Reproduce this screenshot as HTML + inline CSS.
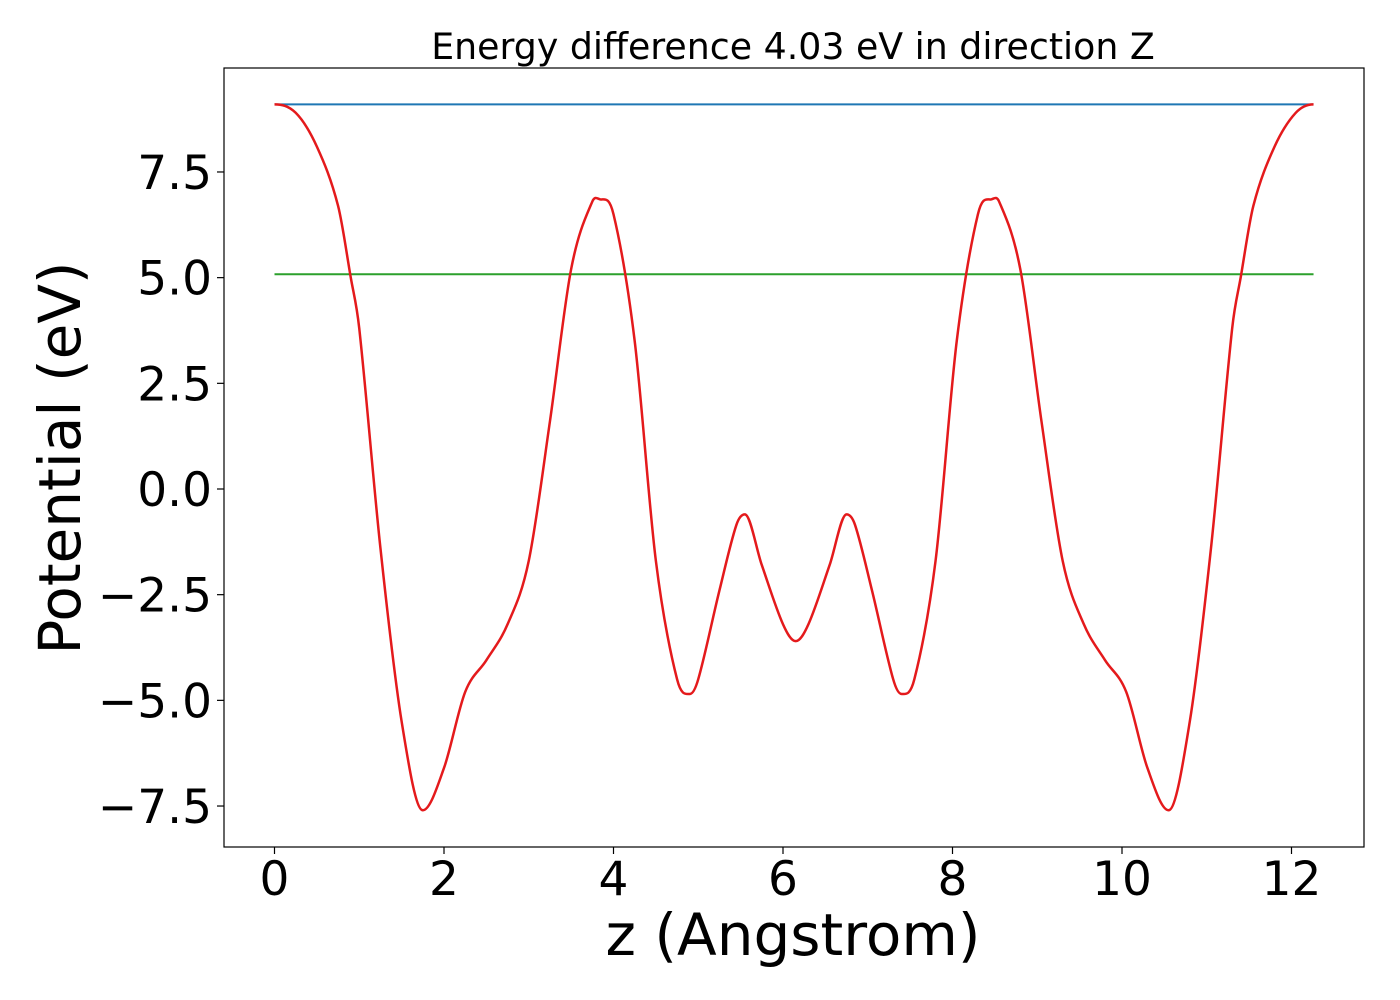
<!DOCTYPE html>
<html><head><meta charset="utf-8"><style>
html,body{margin:0;padding:0;background:#fff;}
svg{display:block;font-family:"DejaVu Sans","Liberation Sans",sans-serif;}
</style></head><body>
<svg id="chart" width="1400" height="1000">
<rect x="0" y="0" width="1400" height="1000" fill="#fff"/>
<text x="793" y="59" font-size="36.3" text-anchor="middle">Energy difference 4.03 eV in direction Z</text>
<g id="plot"></g>
<rect x="224" y="68" width="1140" height="779" fill="none" stroke="#000" stroke-width="1.2"/>
<text x="793" y="955" font-size="58" text-anchor="middle">z (Angstrom)</text>
<text transform="translate(80,458) rotate(-90)" font-size="58" text-anchor="middle">Potential (eV)</text>
</svg>
<script>
const zs = [0,0.25,0.5,0.75,0.9,1.0,1.25,1.5,1.75,2.0,2.25,2.5,2.75,3.0,3.25,3.5,3.75,3.85,4.0,4.25,4.5,4.75,4.9,5.0,5.25,5.45,5.55,5.75,6.0,6.15,6.3,6.55,6.75,6.85,7.05,7.3,7.4,7.55,7.8,8.05,8.3,8.45,8.55,8.8,9.05,9.3,9.55,9.8,10.05,10.3,10.55,10.8,11.05,11.3,11.4,11.55,11.8,12.05,12.26];
const potential = [9.1,8.9,8.1,6.7,5.0,3.8,-1.4,-5.5,-7.6,-6.6,-4.8,-4.05,-3.2,-1.7,1.6,5.2,6.8,6.85,6.5,3.5,-1.7,-4.5,-4.85,-4.5,-2.4,-0.85,-0.6,-1.8,-3.2,-3.6,-3.2,-1.8,-0.6,-0.85,-2.4,-4.5,-4.85,-4.5,-1.7,3.5,6.5,6.85,6.8,5.2,1.6,-1.7,-3.2,-4.05,-4.8,-6.6,-7.6,-5.5,-1.4,3.8,5.0,6.7,8.1,8.9,9.1];
const blueLevel = [9.1];
const greenLevel = [5.08];
const xRange = [0,12.26];
const xTicks = [0,2,4,6,8,10,12];
const yTicks = [-7.5,-5.0,-2.5,0.0,2.5,5.0,7.5];
const X = v => 274.5 + v*84.75;
const Y = v => 489 - v*42.27;
const ns = "http://www.w3.org/2000/svg";
const g = document.getElementById('plot');
function mk(tag, attrs){const e=document.createElementNS(ns,tag);for(const k in attrs)e.setAttribute(k,attrs[k]);g.appendChild(e);return e;}
xTicks.forEach(t=>{
  const l=mk('line',{x1:X(t),x2:X(t),y1:847,y2:854,stroke:'#000','stroke-width':1.2});
  
  
  const tx=mk('text',{x:X(t),y:895,'font-size':47,'text-anchor':'middle'});
  tx.textContent=String(t);
  
  
});
yTicks.forEach(t=>{
  const l=mk('line',{x1:217,x2:224,y1:Y(t),y2:Y(t),stroke:'#000','stroke-width':1.2});
  
  
  const tx=mk('text',{x:212,y:Y(t)+17,'font-size':47,'text-anchor':'end'});
  tx.textContent=(t<0?'\u2212':'')+Math.abs(t).toFixed(1);
  
  
});
const bl=mk('line',{x1:X(xRange[0]),x2:X(xRange[1]),y1:Y(blueLevel[0]),y2:Y(blueLevel[0]),stroke:'#1f77b4','stroke-width':2});


const gl=mk('line',{x1:X(xRange[0]),x2:X(xRange[1]),y1:Y(greenLevel[0]),y2:Y(greenLevel[0]),stroke:'#2ca02c','stroke-width':2});


const n=zs.length;
const m=zs.map((z,i)=>{
  if(i===0||i===n-1) return 0;
  const a=potential[i]-potential[i-1], b=potential[i+1]-potential[i];
  if(a*b<=0) return 0;
  return (potential[i+1]-potential[i-1])/(zs[i+1]-zs[i-1]);
});
let d='M'+X(zs[0])+','+Y(potential[0]);
for(let i=0;i<n-1;i++){
  const h=zs[i+1]-zs[i];
  const c1x=X(zs[i]+h/3), c1y=Y(potential[i]+m[i]*h/3);
  const c2x=X(zs[i+1]-h/3), c2y=Y(potential[i+1]-m[i+1]*h/3);
  d+=` C${c1x},${c1y} ${c2x},${c2y} ${X(zs[i+1])},${Y(potential[i+1])}`;
}
const curve=mk('path',{d:d,fill:'none',stroke:'#e41a1c','stroke-width':2.5});


</script>
</body></html>
